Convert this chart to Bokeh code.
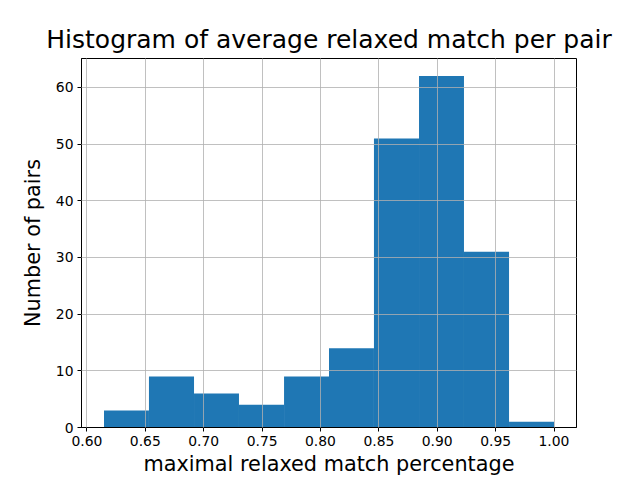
from bokeh.plotting import figure
from bokeh.embed import file_html
from bokeh.resources import INLINE
from bokeh.models import Range1d, FixedTicker, NumeralTickFormatter, ColumnDataSource

# Data
bin_edges = [0.6146, 0.6531, 0.6917, 0.7302, 0.7688, 0.8073, 0.8458, 0.8844, 0.9229, 0.9615, 1.0]
counts = [3, 9, 6, 4, 9, 14, 51, 62, 31, 1]
x_ticks = [0.60, 0.65, 0.70, 0.75, 0.80, 0.85, 0.90, 0.95, 1.00]
y_ticks = [0, 10, 20, 30, 40, 50, 60]

title_text = "Histogram of average relaxed match per pair"
x_label = "maximal relaxed match percentage"
y_label = "Number of pairs"

FONT = "DejaVu Sans"

src = ColumnDataSource(dict(
    left=bin_edges[:-1],
    right=bin_edges[1:],
    top=counts,
    bottom=[0] * len(counts),
))

span = bin_edges[-1] - bin_edges[0]
p = figure(width=640, height=480, output_backend="svg", toolbar_location=None,
           x_range=Range1d(bin_edges[0] - 0.05 * span, bin_edges[-1] + 0.05 * span),
           y_range=Range1d(0, max(counts) * 1.05),
           min_border_left=81, min_border_right=64, min_border_top=58, min_border_bottom=53)

p.quad(left="left", right="right", top="top", bottom="bottom", source=src,
       fill_color="#1f77b4", line_color=None)

p.title.text = title_text
p.title.text_font = FONT
p.title.text_font_size = "25px"
p.title.text_font_style = "normal"
p.title.align = "center"
p.title.text_color = "black"

p.xaxis.ticker = FixedTicker(ticks=x_ticks)
p.yaxis.ticker = FixedTicker(ticks=y_ticks)
p.xaxis.formatter = NumeralTickFormatter(format="0.00")

for ax in (p.xaxis, p.yaxis):
    ax.major_label_text_font = FONT
    ax.major_label_text_font_size = "13.9px"
    ax.major_label_text_color = "black"
    ax.axis_label_text_font = FONT
    ax.axis_label_text_font_size = "20.8px"
    ax.axis_label_text_font_style = "normal"
    ax.axis_label_text_color = "black"
    ax.major_tick_in = 0
    ax.major_tick_out = 4
    ax.minor_tick_line_color = None
    ax.axis_line_color = "black"
    ax.major_tick_line_color = "black"
    ax.major_label_standoff = 4

p.xaxis.axis_label = x_label
p.yaxis.axis_label = y_label
p.xaxis.axis_label_standoff = 3
p.yaxis.axis_label_standoff = 8

p.outline_line_color = "black"
p.outline_line_width = 1

for g in (p.xgrid, p.ygrid):
    g.grid_line_color = "#b0b0b0"
    g.grid_line_width = 0.8
    g.level = "overlay"

open("out.html", "w").write(file_html(p, INLINE))
